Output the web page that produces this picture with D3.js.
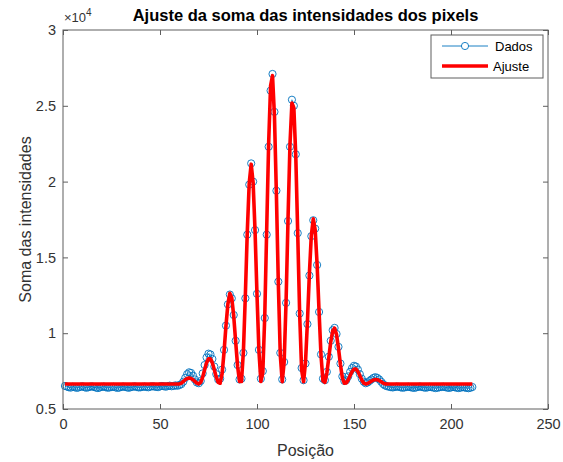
<!DOCTYPE html>
<html>
<head>
<meta charset="utf-8">
<script src="https://cdn.jsdelivr.net/npm/d3@7"></script>
<style>
  body { margin: 0; background: #ffffff; }
  text { font-family: "Liberation Sans", Arial, sans-serif; }
</style>
</head>
<body>
<div id="chart"></div>
<script>

// Data (position 1..211, one point each)
var dados = [
	6520, 6480, 6430, 6410, 6470, 6450, 6390, 6420, 6460, 6500,
	6440, 6400, 6430, 6470, 6490, 6450, 6410, 6380, 6420, 6460,
	6480, 6440, 6400, 6420, 6450, 6470, 6430, 6390, 6410, 6450,
	6480, 6460, 6420, 6400, 6440, 6470, 6490, 6450, 6420, 6430,
	6460, 6480, 6450, 6430, 6470, 6500, 6480, 6460, 6440, 6490,
	6520, 6500, 6470, 6510, 6540, 6500, 6520, 6560, 6530, 6580,
	6640, 6800, 7050, 7300, 7420, 7380, 7200, 6950, 6750, 6700,
	6850, 7350, 7900, 8400, 8650, 8600, 8300, 7800, 7300, 6950,
	7000, 7600, 8900, 10500, 11900, 12550, 12300, 11200, 9500, 7900,
	6950, 7000, 8700, 12300, 16500, 19800, 21200, 20000, 16800, 12600,
	8900, 7000, 7500, 11000, 16500, 22300, 26000, 27100, 24600, 19400,
	13400, 8700, 6950, 8100, 12000, 17400, 22300, 25400, 25000, 21800,
	16600, 11300, 7700, 6900, 8000, 10600, 13800, 16400, 17450, 16900,
	14500, 11400, 8600, 7000, 6900, 7450, 8450, 9500, 10200, 10350,
	9950, 9100, 8000, 7150, 6850, 6900, 7150, 7450, 7700, 7850,
	7800, 7600, 7300, 7000, 6800, 6700, 6750, 6850, 6950, 7050,
	7100, 7050, 6950, 6800, 6650, 6550, 6500, 6470, 6440, 6420,
	6450, 6480, 6460, 6430, 6400, 6420, 6450, 6470, 6440, 6410,
	6390, 6420, 6460, 6480, 6450, 6420, 6400, 6430, 6460, 6440,
	6410, 6380, 6400, 6430, 6450, 6470, 6440, 6410, 6390, 6420,
	6450, 6430, 6400, 6380, 6410, 6440, 6420, 6390, 6370, 6400,
	6450
];

// Fit curve (position, value)
var ajustePos = [1,
	60, 61, 62, 63, 64, 65, 66, 67, 68, 69,
	70, 71, 72, 73, 74, 75, 76, 77, 78, 79,
	80, 81, 82, 83, 84, 85, 86, 87, 88, 89,
	90, 91, 92, 93, 94, 95, 96, 97, 98, 99,
	100, 101, 102, 103, 104, 105, 106, 107, 108, 109,
	110, 111, 112, 113, 114, 115, 116, 117, 118, 119,
	120, 121, 122, 123, 124, 125, 126, 127, 128, 129,
	130, 131, 132, 133, 134, 135, 136, 137, 138, 139,
	140, 141, 142, 143, 144, 145, 146, 147, 148, 149,
	150, 151, 152, 153, 154, 155, 156, 157, 158, 159,
	160, 161, 162, 163, 164, 165, 166, 167,
	211];
var ajusteVal = [6650,
	6654, 6710, 6812, 6928, 7016, 7050, 7016, 6928, 6812, 6710,
	6654, 6754, 7104, 7588, 8042, 8314, 8314, 8042, 7588, 7104,
	6754, 6700, 7310, 8744, 10478, 11930, 12626, 12320, 11132, 9446,
	7820, 6818, 6810, 8810, 12523, 16713, 19932, 21150, 19932, 16713,
	12523, 8810, 6810, 7409, 11160, 16839, 22517, 26310, 26986, 24321,
	19155, 13251, 8577, 6800, 8098, 12177, 17573, 22461, 25187, 24867,
	21634, 16520, 11218, 7571, 6800, 8067, 10759, 13909, 16449, 17539,
	16798, 14498, 11402, 8525, 6857, 6754, 7372, 8374, 9414, 10147,
	10335, 9906, 9011, 7941, 7057, 6700, 6711, 6917, 7202, 7469,
	7629, 7629, 7469, 7202, 6917, 6711, 6650, 6683, 6755, 6841,
	6914, 6949, 6934, 6874, 6790, 6709, 6658, 6650,
	6650];

var xTicks = [0, 50, 100, 150, 200, 250];
var yTicks = [5000, 10000, 15000, 20000, 25000, 30000];
var yTickLabels = ["0.5", "1", "1.5", "2", "2.5", "3"];

// Start Drawing
var w = 563;
var h = 462;
var padL = 63, padR = 548, padT = 30, padB = 409;
var axisColor = "#5e5e5e";
var textColor = "#333333";
var blue = "#0072BD";
var red = "#FF0000";

var svg = d3.select("#chart")
			.append("svg")
			.attr("width", w)
			.attr("height", h);

var x = d3.scaleLinear().domain([0, 250]).range([padL, padR]);
var y = d3.scaleLinear().domain([5000, 30000]).range([padB, padT]);

var points = dados.map(function(d, i) { return [i + 1, d]; });
var fit = ajustePos.map(function(p, i) { return [p, ajusteVal[i]]; });

var line = d3.line()
			.x(function(d) { return x(d[0]); })
			.y(function(d) { return y(d[1]); });

// data line + markers
svg.append("path")
	.datum(points)
	.attr("d", line)
	.attr("fill", "none")
	.attr("stroke", blue)
	.attr("stroke-width", 0.7);

svg.selectAll("circle.dados")
	.data(points)
	.enter()
	.append("circle")
	.attr("class", "dados")
	.attr("cx", function(d) { return x(d[0]); })
	.attr("cy", function(d) { return y(d[1]); })
	.attr("r", 3.6)
	.attr("fill", "none")
	.attr("stroke", blue)
	.attr("stroke-width", 0.9);

// fit
svg.append("path")
	.datum(fit)
	.attr("d", line)
	.attr("fill", "none")
	.attr("stroke", red)
	.attr("stroke-width", 3.6)
	.attr("stroke-linejoin", "round");

// axes
var xAxis = svg.append("g")
			.attr("transform", "translate(0," + padB + ")")
			.call(d3.axisBottom(x).tickValues(xTicks).tickSizeInner(-5).tickSizeOuter(0).tickPadding(10));
var xTop = svg.append("g")
			.attr("transform", "translate(0," + padT + ")")
			.call(d3.axisTop(x).tickValues(xTicks).tickSizeInner(-5).tickSizeOuter(0).tickFormat(""));
var yAxis = svg.append("g")
			.attr("transform", "translate(" + padL + ",0)")
			.call(d3.axisLeft(y).tickValues(yTicks).tickSizeInner(-5).tickSizeOuter(0).tickPadding(7)
				.tickFormat(function(d, i) { return yTickLabels[i]; }));
var yRight = svg.append("g")
			.attr("transform", "translate(" + padR + ",0)")
			.call(d3.axisRight(y).tickValues(yTicks).tickSizeInner(-5).tickSizeOuter(0).tickFormat(""));

[xAxis, xTop, yAxis, yRight].forEach(function(g) {
	g.select(".domain").remove();
	g.selectAll("line").attr("stroke", axisColor);
	g.selectAll("text")
		.attr("fill", textColor)
		.style("font-size", "14.5px")
		.style("font-family", "'Liberation Sans', Arial, sans-serif");
});

svg.append("rect")
	.attr("x", padL)
	.attr("y", padT)
	.attr("width", padR - padL)
	.attr("height", padB - padT)
	.attr("fill", "none")
	.attr("stroke", axisColor)
	.attr("stroke-width", 1);

// exponent
var expo = svg.append("text")
			.attr("x", padL + 1)
			.attr("y", padT - 8)
			.attr("fill", textColor)
			.style("font-size", "13px");
expo.append("tspan").text("\u00d710");
expo.append("tspan").attr("dy", -6).style("font-size", "10px").text("4");

// titles
svg.append("text")
	.attr("x", (padL + padR) / 2)
	.attr("y", 21)
	.attr("text-anchor", "middle")
	.attr("fill", "#000")
	.style("font-size", "16.5px")
	.style("font-weight", "bold")
	.text("Ajuste da soma das intensidades dos pixels");

svg.append("text")
	.attr("x", (padL + padR) / 2)
	.attr("y", 456)
	.attr("text-anchor", "middle")
	.attr("fill", textColor)
	.style("font-size", "16px")
	.text("Posição");

svg.append("text")
	.attr("transform", "translate(31," + ((padT + padB) / 2) + ") rotate(-90)")
	.attr("text-anchor", "middle")
	.attr("fill", textColor)
	.style("font-size", "16px")
	.text("Soma das intensidades");

// legend
var lg = svg.append("g");
lg.append("rect")
	.attr("x", 431)
	.attr("y", 35)
	.attr("width", 112)
	.attr("height", 43)
	.attr("fill", "#fff")
	.attr("stroke", axisColor)
	.attr("stroke-width", 1);

lg.append("line")
	.attr("x1", 442).attr("x2", 488)
	.attr("y1", 46).attr("y2", 46)
	.attr("stroke", blue)
	.attr("stroke-width", 0.9);
lg.append("circle")
	.attr("cx", 465).attr("cy", 46).attr("r", 3.6)
	.attr("fill", "#fff")
	.attr("stroke", blue)
	.attr("stroke-width", 0.9);
lg.append("text")
	.attr("x", 495).attr("y", 46).attr("dy", "0.35em")
	.attr("fill", "#000")
	.style("font-size", "13px")
	.text("Dados");

lg.append("line")
	.attr("x1", 442).attr("x2", 488)
	.attr("y1", 66).attr("y2", 66)
	.attr("stroke", red)
	.attr("stroke-width", 3.6);
lg.append("text")
	.attr("x", 493).attr("y", 66).attr("dy", "0.35em")
	.attr("fill", "#000")
	.style("font-size", "13px")
	.text("Ajuste");

</script>
</body>
</html>
